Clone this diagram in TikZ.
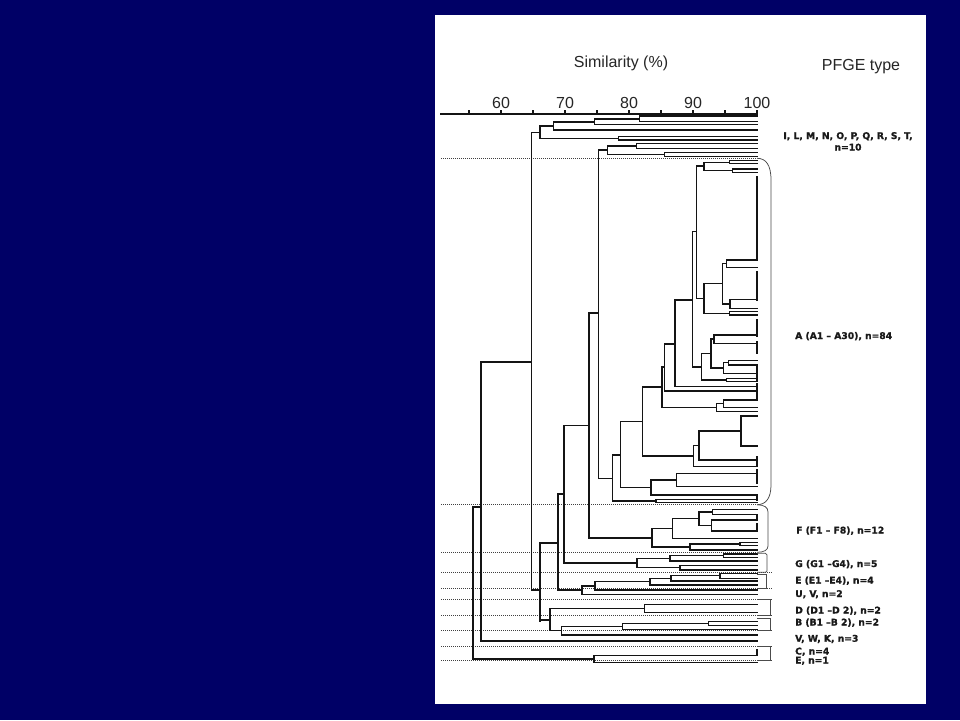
\documentclass[tikz,border=0pt]{standalone}
\usepackage{fontspec}
\setmainfont{Liberation Sans}
\newfontfamily\lblfont[BoldFeatures={FakeBold=1.2}]{DejaVu Sans}
\definecolor{navybg}{RGB}{0,0,102}
\newcommand\dgL[2]{\draw[dline] (#1,#2) -- (757,#2);}
\newcommand\dgN[5]{\draw[dline] (#1,#2) -- (#1,#3) (#4,#5) -- (#1,#5);}
\newcommand\dgB[2]{\draw[dline] (757,#1) -- (757,#2);}
\begin{document}
\begin{tikzpicture}[x=1pt,y=-1pt,
  dline/.style={line width=1.2pt, black!92, line cap=rect},
  dotln/.style={line width=0.65pt, black!75, dash pattern=on 0.8pt off 1.2pt},
  brk/.style={line width=0.75pt, black!70},
  ttl/.style={font=\fontsize{16}{19}\selectfont, text=black!85, inner sep=0pt, anchor=base},
  lbl/.style={font=\lblfont\bfseries\fontsize{9.2}{11}\selectfont, inner sep=0pt, anchor=base west, text=black!90}]
\useasboundingbox (0,0) rectangle (960,720);
\fill[navybg] (0,0) rectangle (960,720);
\fill[white] (435,15) rectangle (926,704);

% titles
\node[ttl] (simtitle) at (621,67.5) {Similarity (\%)};
\node[ttl] (pfgetitle) at (861,70) {PFGE type};

% axis
\draw[dline] (441,114) -- (757,114);
\foreach \s in {55,60,...,100} \draw[dline] ({757-(100-\s)*6.4},114) -- ++(0,-3);
\foreach \s in {60,70,80,90,100} \node[ttl] (ax\s) at ({757-(100-\s)*6.4},108) {\s};

% dotted separators
\foreach \yy in {158.3,504.7,552.3} \draw[dotln] (441,\yy) -- (757,\yy);
\foreach \yy in {572.3,588.3,599,615.7,630.3,646.7,660.7} \draw[dotln] (441,\yy) -- (772,\yy);

% top cluster
\dgL{639.3}{116} \dgL{639.3}{121.7} \dgN{639.3}{116}{121.7}{594.3}{119}
\dgL{594.3}{124.3} \dgN{594.3}{119}{124.3}{553.3}{122}
\dgL{553.3}{130} \dgN{553.3}{122}{130}{540}{126}
\dgL{618.3}{136.7} \dgL{618.3}{140} \dgN{618.3}{136.7}{140}{540}{138.5}
\dgN{540}{126}{138.5}{531.7}{132.7}
\dgL{636.7}{143.3} \dgL{636.7}{148.7} \dgN{636.7}{143.3}{148.7}{607.7}{146}
\dgL{664.3}{152.7} \dgL{664.3}{156.7} \dgN{664.3}{152.7}{156.7}{607.7}{154.5}
\dgN{607.7}{146}{154.5}{598.3}{150}

% A cluster
\dgN{598.3}{150}{478.3}{589}{313}
\dgL{729.3}{160.7} \dgL{729.3}{163.3} \dgN{729.3}{160.7}{163.3}{704}{162.2}
\dgL{732.7}{169} \dgL{732.7}{172.3} \dgN{732.7}{169}{172.3}{704}{170.7}
\dgN{704}{162.2}{170.7}{696.7}{166}
\dgL{726.7}{260} \dgL{726.7}{267.3} \dgN{726.7}{260}{267.3}{722.7}{263.5}
\dgL{730}{299.3} \dgL{730}{308.3} \dgN{730}{299.3}{308.3}{722.7}{304}
\dgN{722.7}{263.5}{304}{704}{283.5}
\dgL{729.3}{311.7} \dgL{729.3}{315} \dgN{729.3}{311.7}{315}{704}{313.3}
\dgN{704}{283.5}{313.3}{696.7}{298.3}
\dgN{696.7}{166}{298.3}{692.3}{231.7}
\dgL{714}{335} \dgL{714}{343.3} \dgN{714}{335}{343.3}{711}{339}
\dgL{728.3}{360.7} \dgL{728.3}{365} \dgN{728.3}{360.7}{365}{723.3}{362.8}
\dgL{723.3}{373.3} \dgN{723.3}{362.8}{373.3}{711}{368}
\dgN{711}{339}{368}{701.7}{353.5}
\dgL{726.7}{378.3} \dgL{726.7}{381.7} \dgN{726.7}{378.3}{381.7}{701.7}{380}
\dgN{701.7}{353.5}{380}{692.3}{367}
\dgN{692.3}{231.7}{367}{675}{300}
\dgL{675}{386.7} \dgN{675}{300}{386.7}{664.3}{344}
\dgL{664.3}{391} \dgN{664.3}{344}{391}{662}{367}
\dgL{723.3}{400} \dgL{723.3}{407.3} \dgN{723.3}{400}{407.3}{716.7}{403.7}
\dgL{716.7}{411.7} \dgN{716.7}{403.7}{411.7}{662}{407.5}
\dgN{662}{367}{407.5}{642.3}{387}
\dgL{741}{416} \dgL{741}{446} \dgN{741}{416}{446}{699}{431}
\dgL{699}{460} \dgN{699}{431}{460}{693.3}{445.5}
\dgL{693.3}{466.7} \dgN{693.3}{445.5}{466.7}{642.3}{456}
\dgN{642.3}{387}{456}{620.7}{421.5}
\dgL{676.7}{473.3} \dgL{676.7}{486.7} \dgN{676.7}{473.3}{486.7}{651}{480}
\dgL{651}{495} \dgN{651}{480}{495}{620.7}{487.5}
\dgN{620.7}{421.5}{487.5}{612.3}{455}
\dgL{656}{499.5} \dgL{656}{502.7} \dgN{656}{499.5}{502.7}{612.3}{501}
\dgN{612.3}{455}{501}{598.3}{478.3}
\dgB{176.7}{260} \dgB{271.7}{300} \dgB{320}{336.7} \dgB{341.7}{353.3}
\dgB{366.7}{380} \dgB{383.3}{398.3} \dgB{456.7}{466.7} \dgB{470}{483.3} \dgB{495}{500}

% F cluster
\dgL{712.7}{509.5} \dgL{712.7}{514.5} \dgN{712.7}{509.5}{514.5}{699}{512}
\dgL{711.7}{520} \dgL{711.7}{531} \dgN{711.7}{520}{531}{699}{525.5}
\dgN{699}{512}{525.5}{672.3}{518.5}
\dgL{672.3}{538.3} \dgN{672.3}{518.5}{538.3}{652}{528.4}
\dgL{740}{542.3} \dgL{740}{545.7} \dgN{740}{542.3}{545.7}{690}{544}
\dgL{690}{550} \dgN{690}{544}{550}{652}{547}
\dgN{652}{528.4}{547}{589}{538}
\dgB{514.5}{520} \dgB{524}{531}
\dgN{589}{313}{538}{564}{425.5}

% G cluster
\dgL{723.3}{554} \dgL{723.3}{557.5} \dgN{723.3}{554}{557.5}{670}{555.7}
\dgL{670}{561} \dgN{670}{555.7}{561}{637}{558.3}
\dgL{680}{565.7} \dgL{680}{570} \dgN{680}{565.7}{570}{637}{567.8}
\dgN{637}{558.3}{567.8}{564}{563}
\dgN{564}{425.5}{563}{558}{494}

% E and U,V
\dgL{720}{573.3} \dgL{720}{578.3} \dgN{720}{573.3}{578.3}{671}{575.8}
\dgL{671}{581} \dgN{671}{575.8}{581}{650}{578.4}
\dgL{650}{585} \dgN{650}{578.4}{585}{595}{581.7}
\dgL{595}{590} \dgN{595}{581.7}{590}{582}{586}
\dgL{582}{594.3} \dgN{582}{586}{594.3}{558}{590}
\dgN{558}{494}{590}{540}{543}

% D, B, V W K
\dgL{644.3}{604.3} \dgL{644.3}{612.3} \dgN{644.3}{604.3}{612.3}{550}{608.3}
\dgL{708.3}{621.7} \dgL{708.3}{625.7} \dgN{708.3}{621.7}{625.7}{622.7}{623.7}
\dgL{622.7}{629.5} \dgN{622.7}{623.7}{629.5}{561.7}{626.6}
\dgL{561.7}{635} \dgN{561.7}{626.6}{635}{550}{630.8}
\dgN{550}{608.3}{630.8}{540}{620}
\dgN{540}{543}{621}{531.7}{590}
\dgN{531.7}{132.7}{590}{481}{362}
\dgL{481}{641} \dgN{481}{362}{641}{473}{507}

% C, E
\dgL{594}{655.7} \dgL{594}{662.7} \dgN{594}{655.7}{662.7}{473}{659}
\dgB{650}{655.7}
\draw[dline] (473,507) -- (473,659);

% brackets
\draw[brk] (757,158.3) .. controls (766,158.3) and (771,165) .. (771,180) -- (771,485) .. controls (771,498) and (766,504.7) .. (757,504.7);
\draw[brk] (757,504.7) .. controls (764,505) and (768,507) .. (768,512) -- (768,546) .. controls (768,550) and (764,552.3) .. (757,552.3);
\draw[brk, rounded corners=1.5pt] (757,553.3) -- (767,553.3) -- (767,572.3) -- (757,572.3);
\draw[brk] (757,574.3) -- (766,574.3) -- (766,588.3) -- (757,588.3);
\draw[brk] (757,599) -- (770,599) -- (770,615.7) -- (757,615.7);
\draw[brk] (757,618.3) -- (770,618.3) -- (770,630) -- (757,630);
\draw[brk] (757,646.7) -- (770,646.7) -- (770,660.7) -- (757,660.7);

% labels
\node[lbl, anchor=base] (lblIT) at (848,139) {I, L, M, N, O, P, Q, R, S, T,};
\node[lbl, anchor=base] (lblITn) at (848,150.5) {n=10};
\node[lbl] (lblA) at (795,339) {A (A1 – A30), n=84};
\node[lbl] (lblF) at (796,533.5) {F (F1 – F8), n=12};
\node[lbl] (lblG) at (795,567) {G (G1 –G4), n=5};
\node[lbl] (lblE) at (795,583.5) {E (E1 –E4), n=4};
\node[lbl] (lblUV) at (795,597) {U, V, n=2};
\node[lbl] (lblD) at (795,613.5) {D (D1 –D 2), n=2};
\node[lbl] (lblB) at (795,625.5) {B (B1 –B 2), n=2};
\node[lbl] (lblVWK) at (795,641.7) {V, W, K, n=3};
\node[lbl] (lblC) at (795,654.5) {C, n=4};
\node[lbl] (lblE1) at (795,663.5) {E, n=1};
\end{tikzpicture}
\end{document}
